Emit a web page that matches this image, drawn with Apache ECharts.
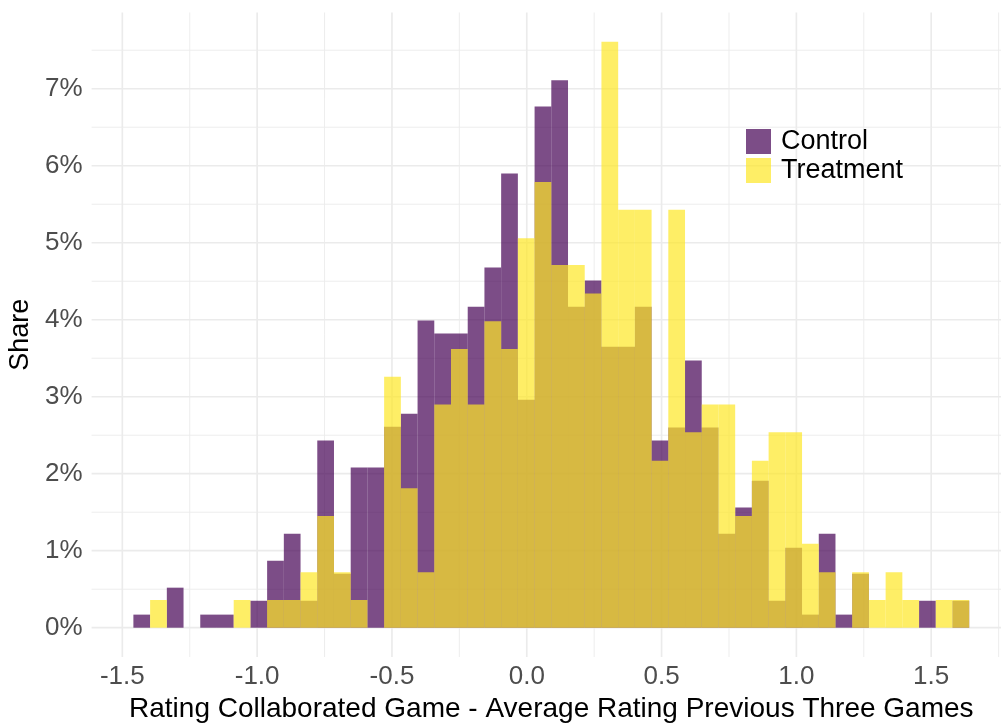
<!DOCTYPE html>
<html><head><meta charset="utf-8">
<script src="https://cdn.jsdelivr.net/npm/echarts@6/dist/echarts.min.js"></script>
<style>html,body{margin:0;padding:0;background:#fff}#c{width:1001px;height:726px}</style>
</head><body><div id="c"></div>
<script>
// Histogram bins (50 bins)
const binStart = -1.459;
const binWidth = 0.062;
// Share (%) per bin
const control = [0.17,0,0.52,0,0.17,0.17,0,0.35,0.87,1.22,0.35,2.43,0.70,2.08,2.08,2.61,2.78,3.99,3.82,3.82,4.17,4.68,5.90,2.96,6.77,7.11,4.17,4.51,3.65,3.65,4.17,2.43,2.60,3.47,2.60,1.22,1.56,1.91,0.35,1.04,0.17,1.22,0.17,0.70,0,0,0,0.35,0,0.35];
const treatment = [0,0.36,0,0,0,0,0.36,0,0.36,0.36,0.72,1.45,0.72,0.36,0,3.26,1.81,0.72,2.90,3.62,2.90,3.98,3.62,5.06,5.79,4.71,4.71,4.34,7.61,5.43,5.43,2.17,5.43,2.54,2.90,2.90,1.45,2.17,2.54,2.54,1.09,0.72,0,0.72,0.36,0.72,0.36,0,0.36,0.36];
const xTickLabels = [-1.5,-1.0,-0.5,0.0,0.5,1.0,1.5];
const yTickLabels = [0,1,2,3,4,5,6,7];
const xMinorGrid = [-1.25,-0.75,-0.25,0.25,0.75,1.25,1.75];
const yMinorGrid = [0.5,1.5,2.5,3.5,4.5,5.5,6.5,7.5];
const seriesNames = ['Control','Treatment'];

const xMin = -1.614, xMax = 1.796, yMin = -0.3805, yMax = 7.9905;
const FONT = '"Liberation Sans", Arial, sans-serif';

function binData(vals){
  return vals.map((v,i)=>[binStart+i*binWidth, binStart+(i+1)*binWidth, v]);
}
function renderBar(params, api){
  const v = api.value(2);
  if (!v) return null;
  const a = api.coord([api.value(0), v]);
  const b = api.coord([api.value(1), 0]);
  return {type:'rect', shape:{x:a[0], y:a[1], width:b[0]-a[0], height:b[1]-a[1]},
          style:{fill: api.visual('color')}};
}
function renderV(params, api){
  const v = api.value(0);
  const a = api.coord([v, yMin]), b = api.coord([v, yMax]);
  return {type:'line', shape:{x1:a[0],y1:a[1],x2:b[0],y2:b[1]}, style:{stroke:'#EBEBEB', lineWidth: api.value(1)}};
}
function renderH(params, api){
  const v = api.value(0);
  const a = api.coord([xMin, v]), b = api.coord([xMax, v]);
  return {type:'line', shape:{x1:a[0],y1:a[1],x2:b[0],y2:b[1]}, style:{stroke:'#EBEBEB', lineWidth: api.value(1)}};
}
const vGrid = xTickLabels.map(v=>[v,1.7]).concat(xMinorGrid.map(v=>[v,0.9]));
const hGrid = yTickLabels.map(v=>[v,1.7]).concat(yMinorGrid.map(v=>[v,0.9]));

const chart = echarts.init(document.getElementById('c'), null, {renderer:'canvas'});
chart.setOption({
  animation:false,
  backgroundColor:'#fff',
  grid:{left:91.6, top:12.5, width:919.4, height:644.5, containLabel:false, outerBoundsMode:'none'},
  legend:{
    data:seriesNames, orient:'vertical', left:741, top:123,
    itemWidth:25, itemHeight:25, itemGap:2, icon:'rect',
    textStyle:{fontSize:27, color:'#000', fontFamily:FONT, padding:[0,0,0,5]}
  },
  xAxis:{
    type:'value', min:xMin, max:xMax,
    axisLine:{show:false}, axisTick:{show:false}, splitLine:{show:false},
    axisLabel:{customValues:xTickLabels, formatter:v=>v.toFixed(1), fontSize:26, color:'#4D4D4D', fontFamily:FONT, margin:7},
    name:'Rating Collaborated Game - Average Rating Previous Three Games',
    nameLocation:'middle', nameGap:34,
    nameTextStyle:{fontSize:28, color:'#000', fontFamily:FONT}
  },
  yAxis:{
    type:'value', min:yMin, max:yMax,
    axisLine:{show:false}, axisTick:{show:false}, splitLine:{show:false},
    axisLabel:{customValues:yTickLabels, formatter:v=>v+'%', fontSize:26, color:'#4D4D4D', fontFamily:FONT, margin:9},
    name:'Share', nameLocation:'middle', nameGap:54,
    nameTextStyle:{fontSize:27, color:'#000', fontFamily:FONT}
  },
  series:[
    {type:'custom', name:'vgrid', silent:true, z:0, renderItem:renderV, data:vGrid, encode:{x:0}},
    {type:'custom', name:'hgrid', silent:true, z:0, renderItem:renderH, data:hGrid, encode:{y:0}},
    {type:'custom', name:seriesNames[0], z:2, renderItem:renderBar, data:binData(control),
     encode:{x:[0,1], y:2}, itemStyle:{color:'rgba(68,1,84,0.7)'}},
    {type:'custom', name:seriesNames[1], z:3, renderItem:renderBar, data:binData(treatment),
     encode:{x:[0,1], y:2}, itemStyle:{color:'rgba(253,231,37,0.7)'}}
  ]
});
</script></body></html>
